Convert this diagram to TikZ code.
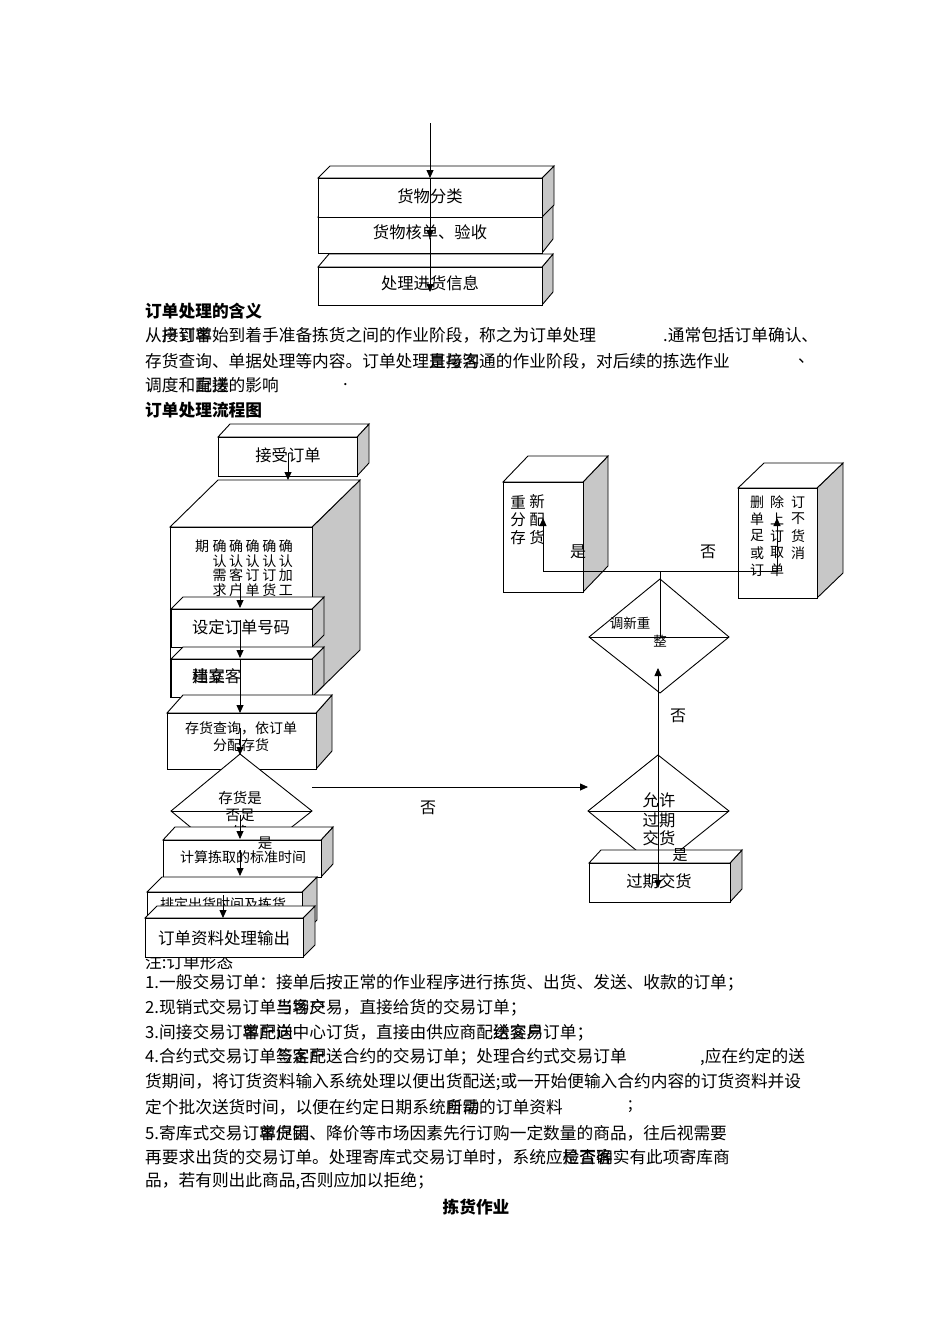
\documentclass[tikz,border=0pt]{standalone}
\usepackage{fontspec}
\setmainfont{Noto Sans CJK SC}
\usetikzlibrary{arrows.meta}
\newcommand\fsz[1]{\fontsize{#1pt}{#1pt}\selectfont}
\colorlet{sidegray}{black!22}
\tikzset{
  bl/.style={line width=0.9pt, draw=black},
  ln/.style={line width=0.8pt, draw=black},
  arr/.style={line width=0.8pt, draw=black, -{Triangle[length=8pt,width=7pt]}},
  t/.style={inner sep=0pt, anchor=west, font=\fsz{16.7}},
  bt/.style={inner sep=0pt, font=\fsz{16.3}},
  st/.style={inner sep=0pt, font=\fsz{14}},
  lab/.style={inner sep=0pt, font=\fsz{15.5}},
  dia/.style={bl, fill=white},
}
% cuboid: name, x1, y1, x2, y2 (front face), dx, dy (depth)
\newcommand\cubx[7]{%
  \filldraw[bl, fill=sidegray] (#4,#3) -- (#4+#6,#3-#7) -- (#4+#6,#5-#7) -- (#4,#5) -- cycle;
  \filldraw[bl, fill=white] (#2,#3) -- (#2+#6,#3-#7) -- (#4+#6,#3-#7) -- (#4,#3) -- cycle;
  \node[bl, fill=white, inner sep=0pt, outer sep=0pt, minimum width={#4-#2}, minimum height={#5-#3}, anchor=north west] (#1) at (#2,#3) {};
}
\begin{document}
\begin{tikzpicture}[x=1pt,y=-1pt]
\useasboundingbox (0,0) rectangle (950,1344);
\fill[white] (0,0) rectangle (950,1344);

% ---------- top stack ----------
\cubx{b2}{318}{217}{542}{253}{11}{14}
\cubx{b1}{318}{178}{542}{217}{12}{12}
\cubx{b3}{318}{267}{542}{305}{11}{13}
\node[bt] (b1t) at (430,196) {货物分类};
\node[bt] (b2t) at (430,232) {货物核单、验收};
\node[bt] (b3t) at (430,283) {处理进货信息};
\coordinate (top0) at (430,123);
\draw[arr] (top0) -- (430,178) coordinate (top1);
\draw[arr] (top1) -- (430,238) coordinate (top2);
\draw[arr] (top2) -- (430,292);

% ---------- paragraphs ----------
\node[t] (h1) at (145,311) {\bfseries 订单处理的含义};
\node[t] (p1) at (145,335) {从\rlap{户订单}接到客始到着手准备拣货之间的作业阶段，称之为订单处理};
\node[t] (p1b) at (663,335) {.通常包括订单确认、};
\node[t] (p2) at (145,361) {存货查询、单据处理等内容。订单处理\rlap{直接沟}是与客通的作业阶段，对后续的拣选作业};
\node[t] (p2b) at (798,361) {、};
\node[t] (p3) at (145,385) {调度和\rlap{直接}配送的影响};
\node[t] (p3b) at (343,385) {.};
\node[t] (h2) at (145,410) {\bfseries 订单处理流程图};

\node[t] (n0) at (145,962) {注:订单形态};

% ---------- left flow ----------
\cubx{jd}{218}{437}{357}{476}{12}{13}
\node[bt] (jdt) at (288,455) {接受订单};

\cubx{big}{170}{527}{312}{697}{48}{47}
\node[st] at (202,546) {期};
\foreach \col [count=\i from 0] in {{确,认,需,求},{确,认,客,户},{确,认,订,单},{确,认,订,货},{确,认,加,工}}{
  \foreach \ch [count=\j from 0] in \col {
    \node[st] at (219.5+16.6*\i, 546+14.7*\j) {\ch};
  }
}
\cubx{sd}{171}{609}{312}{647}{12}{12}
\node[bt] (sdt) at (241,627) {设定订单号码};
\cubx{jl}{171}{659}{312}{697}{12}{12}
\node[t, font=\fsz{16.3}] (jlt) at (192,676) {\rlap{档案}建立客};

\cubx{ch}{167}{713}{316}{769}{16}{18}
\node[st] (cht1) at (241,728) {存货查询，依订单};
\node[st] (cht2) at (241,745) {分配存货};

\filldraw[dia] (240,754) coordinate (d1t) -- (171,811) coordinate (d1l) -- (240,868) -- (312,811) coordinate (d1r) -- cycle;
\draw[bl] (d1l) -- (d1r);
\node[lab, font=\fsz{14.5}] at (240,798) {存货是};
\node[lab, font=\fsz{14.5}] at (240,815) {否足};
\node[lab, font=\fsz{14.5}] at (240,832) {够};

\cubx{js}{163}{840}{321}{877}{12}{13}
\node[st] (jst) at (243,857) {计算拣取的标准时间};
\cubx{pd}{147}{892}{302}{935}{15}{15}
\node[st, anchor=west] (pdt) at (160,904) {排定出货时间及拣货};
\cubx{sc}{145}{918}{303}{957}{12}{12}
\node[bt, font=\fsz{16.5}] (sct) at (224,938) {订单资料处理输出};

\node[lab, font=\fsz{14.5}] at (265,843) {是};
\node[lab, font=\fsz{16}] at (428,808) {否};

\draw[arr] (288,453) -- (288,480);
\draw[arr] (240,583) -- (240,608);
\draw[arr] (240,620) -- (240,658);
\draw[arr] (240,660) -- (240,713);
\draw[arr] (240,728) -- (240,755);
\draw[arr] (240,815) -- (240,839);
\draw[arr] (240,850) -- (240,876);
\draw[arr] (223,895) -- (223,918);
\draw[arr] (d1r |- 0,787) -- (588,787);

% ---------- right flow ----------
\cubx{cx}{503}{482}{583}{592}{25}{26}
\foreach \ch [count=\j from 0] in {重,分,存} {\node[lab] at (518,502+18*\j) {\ch};}
\foreach \ch [count=\j from 0] in {新,配,货} {\node[lab] at (537,502+18*\j) {\ch};}

\cubx{xc}{738}{488}{817}{598}{26}{25}
\foreach \ch [count=\j from 0] in {删,单,足,或,订} {\node[st] at (757,502+17*\j) {\ch};}
\foreach \ch [count=\j from 0] in {除,上,订,取,单} {\node[st] at (777,502+17*\j) {\ch};}
\foreach \ch [count=\j from 0] in {订,不,货,消} {\node[st] at (798,502+17*\j) {\ch};}

\filldraw[dia] (660,579) coordinate (d2t) -- (589,637) coordinate (d2l) -- (660,693) -- (729,637) coordinate (d2r) -- cycle;
\draw[bl] (d2l) -- (d2r);
\node[st, font=\fsz{13.5}] at (630,623) {调新重};
\node[st, font=\fsz{13.5}] at (660,641) {整};

\filldraw[dia] (658,755) coordinate (d3t) -- (588,811) coordinate (d3l) -- (658,868) -- (729,811) coordinate (d3r) -- cycle;
\draw[bl] (d3l) -- (d3r);
\node[bt] at (659,800) {允许};
\node[bt] at (659,820) {过期};
\node[bt] at (659,838) {交货};

\cubx{gq}{589}{863}{730}{902}{12}{13}
\node[bt] (gqt) at (659,881) {过期交货};

\node[lab, font=\fsz{16}] at (578,552) {是};
\node[lab, font=\fsz{16}] at (708,552) {否};
\node[lab, font=\fsz{16}] at (678,716) {否};
\node[lab, font=\fsz{15}] at (680,855) {是};

\coordinate (jn) at (660,571);
\draw[arr] (660,637) -- (jn) -- (543,571) -- (543,518);
\draw[arr] (jn) -- (777,571) -- (777,518);
\draw[arr] (d3t) -- (658,668);
\draw[arr] (d3t) -- (658,888);

% ---------- notes ----------
\node[t] (n1) at (145,983) {1.一般交易订单：接单后按正常的作业程序进行拣货、出货、发送、收款的订单；};
\node[t] (n2) at (145,1008) {2.现销式交易订单\rlap{与客户}当场交易，直接给货的交易订单；};
\node[t] (n3) at (145,1033) {3.间接交易订\rlap{客户向}单配送中心订货，直接由供应商配\rlap{给客户}送交易订单；};
\node[t] (n4) at (145,1057) {4.合约式交易订单\rlap{与客户}签定配送合约的交易订单；处理合约式交易订单};
\node[t] (n4b) at (700,1057) {,应在约定的送};
\node[t] (n5) at (145,1082) {货期间，将订货资料输入系统处理以便出货配送;或一开始便输入合约内容的订货资料并设};
\node[t] (n6) at (145,1107) {定个批次送货时间，以便在约定日期系统\rlap{自动}所需的订单资料};
\node[t] (n6b) at (628,1107) {;};
\node[t] (n7) at (145,1133) {5.寄库式交易订\rlap{客户因}单促销、降价等市场因素先行订购一定数量的商品，往后视需要};
\node[t] (n8) at (145,1157) {再要求出货的交易订单。处理寄库式交易订单时，系统应\rlap{是否确}检查客实有此项寄库商};
\node[t] (n9) at (145,1181) {品，若有则出此商品,否则应加以拒绝；};
\node[t, anchor=center] (n10) at (476,1207) {\bfseries 拣货作业};
\end{tikzpicture}
\end{document}
